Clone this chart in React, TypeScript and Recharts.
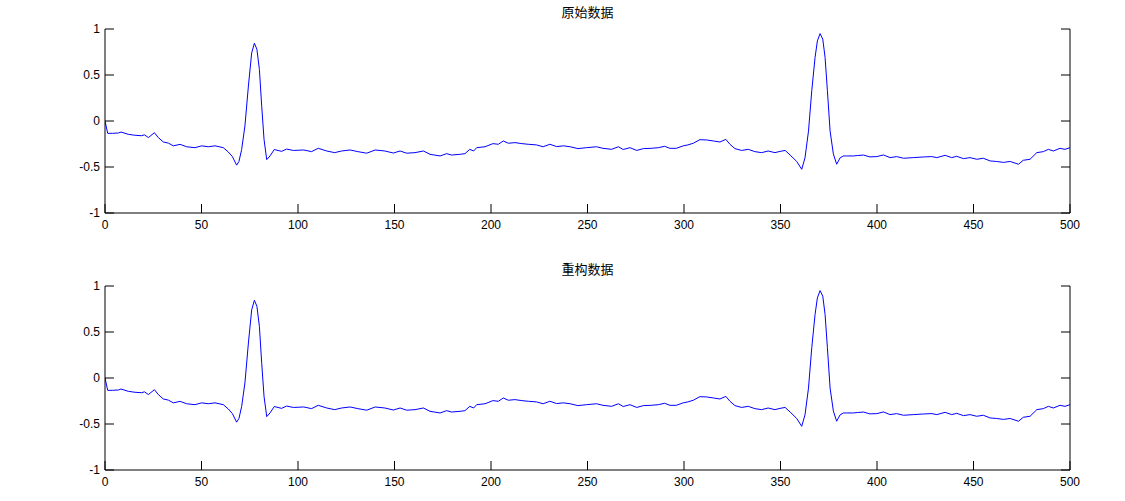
import { LineChart, Line, XAxis, YAxis } from 'recharts'

// sample positions (irregular, denser around the QRS peaks)
const sampleIndex = [
  0, 1.4, 4, 7, 8.3, 12.1, 15.5, 19, 20.4, 22.5, 25.6, 27.6, 30.2, 32.8, 35.4, 38.9, 42.3, 46.6, 50.1, 53.5,
  57, 61.3, 63.9, 66, 68.2, 69.4, 70.8, 72.5, 74.3, 76, 77.4, 78.7, 80, 81.2, 82.4, 83.8, 85.5, 87.7, 91.5, 94.1,
  97.6, 103, 107, 110.5, 114.9, 119, 122.6, 127, 131, 135.6, 140, 145, 149.4, 152.9, 156.3, 160.6, 165, 168.4, 173.6, 177,
  179.6, 184, 186.5, 189, 191, 192.6, 196.9, 201, 203.8, 206.4, 209, 212.4, 216, 219.3, 223.6, 227, 230.5, 234, 237.5, 241,
  245, 249.5, 254.7, 258, 262.5, 266, 268.5, 272, 275.5, 279, 283, 286.7, 290, 292.7, 296, 299.6, 302, 304.8, 308.2, 311.7,
  315.2, 318.6, 321.7, 323.8, 326.4, 329.8, 333.3, 336.7, 340.2, 343.6, 347.1, 349.8, 352.4, 355, 358.4, 361, 362.7, 364.5, 366.2, 367.9,
  369.1, 370.5, 371.9, 373.1, 374.3, 375.7, 377.4, 379.1, 380.9, 382.6, 384.2, 387.8, 390, 393, 396.3, 399.9, 403.3, 406.8, 410.2, 413.7,
  418.9, 424, 428.4, 431, 435.3, 438.7, 441.3, 444.8, 448.2, 451.7, 455.1, 458.6, 462, 465.5, 469, 473.3, 475.8, 479.3, 482.8, 486.2,
  488.8, 491.4, 494.8, 497.4, 500,
]

const originalSignal = [
  0, -0.134, -0.134, -0.13, -0.12, -0.145, -0.155, -0.16, -0.15, -0.18, -0.127, -0.18, -0.228, -0.24, -0.27, -0.254, -0.28, -0.29, -0.27, -0.28,
  -0.27, -0.29, -0.337, -0.387, -0.48, -0.44, -0.31, -0.054, 0.38, 0.74, 0.845, 0.78, 0.56, 0.16, -0.2, -0.42, -0.38, -0.31, -0.33, -0.305,
  -0.32, -0.315, -0.333, -0.297, -0.326, -0.344, -0.326, -0.315, -0.333, -0.35, -0.315, -0.326, -0.348, -0.326, -0.35, -0.344, -0.326, -0.362, -0.38, -0.355,
  -0.37, -0.362, -0.355, -0.308, -0.326, -0.29, -0.28, -0.246, -0.253, -0.217, -0.242, -0.235, -0.246, -0.253, -0.26, -0.28, -0.253, -0.278, -0.27, -0.28,
  -0.3, -0.29, -0.28, -0.297, -0.308, -0.28, -0.31, -0.29, -0.32, -0.3, -0.297, -0.29, -0.275, -0.297, -0.297, -0.27, -0.26, -0.242, -0.203, -0.206,
  -0.217, -0.228, -0.2, -0.253, -0.3, -0.32, -0.308, -0.333, -0.344, -0.326, -0.344, -0.33, -0.32, -0.37, -0.44, -0.525, -0.4, -0.11, 0.33, 0.69,
  0.87, 0.95, 0.89, 0.69, 0.33, -0.11, -0.36, -0.47, -0.4, -0.38, -0.38, -0.38, -0.375, -0.37, -0.39, -0.387, -0.369, -0.398, -0.387, -0.405,
  -0.398, -0.391, -0.387, -0.398, -0.373, -0.398, -0.384, -0.409, -0.398, -0.416, -0.405, -0.434, -0.44, -0.45, -0.44, -0.47, -0.427, -0.416, -0.344, -0.333,
  -0.308, -0.326, -0.297, -0.308, -0.29,
]

// the reconstruction is visually identical to the original trace
const reconstructedSignal = [...originalSignal]

const xTicks = [0, 50, 100, 150, 200, 250, 300, 350, 400, 450, 500]
const yTicks = [-1, -0.5, 0, 0.5, 1]

const TICK = 9
const FONT = '"Liberation Sans", Arial, sans-serif'

const BottomTick = ({ x, y, payload }: any) => (
  <g>
    <line x1={x} x2={x} y1={y} y2={y - TICK} stroke="#000" />
    <text x={x} y={y + 16} textAnchor="middle" fontSize={12} fontFamily={FONT} fill="#000">
      {payload.value}
    </text>
  </g>
)

const TopTick = ({ x, y }: any) => <line x1={x} x2={x} y1={y} y2={y + TICK} stroke="#000" />

const LeftTick = ({ x, y, payload }: any) => (
  <g>
    <line x1={x} x2={x + TICK} y1={y} y2={y} stroke="#000" />
    <text x={x - 5} y={y + 4} textAnchor="end" fontSize={12} fontFamily={FONT} fill="#000">
      {payload.value}
    </text>
  </g>
)

const RightTick = ({ x, y }: any) => <line x1={x} x2={x - TICK} y1={y} y2={y} stroke="#000" />

const Panel = ({ title, values, top }: { title: string; values: number[]; top: number }) => {
  const data = sampleIndex.map((x, i) => ({ x, y: values[i] }))
  return (
    <div style={{ position: 'absolute', left: 0, top, width: 1125, height: 250 }}>
      <div
        style={{
          position: 'absolute',
          left: 105,
          width: 965,
          top: 4,
          textAlign: 'center',
          fontSize: 13,
          lineHeight: '16px',
          fontFamily: '"Noto Sans CJK SC", sans-serif',
          color: '#000',
        }}
      >
        {title}
      </div>
      <LineChart width={1125} height={250} data={data} margin={{ top: 29, right: 0, bottom: 0, left: 0 }}>
        <XAxis
          xAxisId="bottom"
          dataKey="x"
          type="number"
          domain={[0, 500]}
          ticks={xTicks}
          interval={0}
          height={37}
          tickSize={0}
          tickMargin={0}
          tickLine={false}
          axisLine={{ stroke: '#000' }}
          tick={BottomTick}
          allowDataOverflow
        />
        <XAxis
          xAxisId="top"
          orientation="top"
          dataKey="x"
          type="number"
          domain={[0, 500]}
          ticks={xTicks}
          interval={0}
          height={0}
          tickSize={0}
          tickMargin={0}
          tickLine={false}
          axisLine={{ stroke: '#000' }}
          tick={TopTick}
          allowDataOverflow
        />
        <YAxis
          yAxisId="left"
          type="number"
          domain={[-1, 1]}
          ticks={yTicks}
          interval={0}
          width={105}
          tickSize={0}
          tickMargin={0}
          tickLine={false}
          axisLine={{ stroke: '#000' }}
          tick={LeftTick}
          allowDataOverflow
        />
        <YAxis
          yAxisId="right"
          orientation="right"
          type="number"
          domain={[-1, 1]}
          ticks={yTicks}
          interval={0}
          width={55}
          tickSize={0}
          tickMargin={0}
          tickLine={false}
          axisLine={{ stroke: '#000' }}
          tick={RightTick}
          allowDataOverflow
        />
        <Line
          xAxisId="bottom"
          yAxisId="left"
          type="linear"
          dataKey="y"
          stroke="#0000ff"
          strokeWidth={1}
          dot={false}
          activeDot={false}
          isAnimationActive={false}
        />
      </LineChart>
    </div>
  )
}

export default function App() {
  return (
    <div style={{ position: 'absolute', left: 0, top: 0, width: 1125, height: 501, background: '#fff' }}>
      <Panel title="原始数据" values={originalSignal} top={0} />
      <Panel title="重构数据" values={reconstructedSignal} top={257} />
    </div>
  )
}
